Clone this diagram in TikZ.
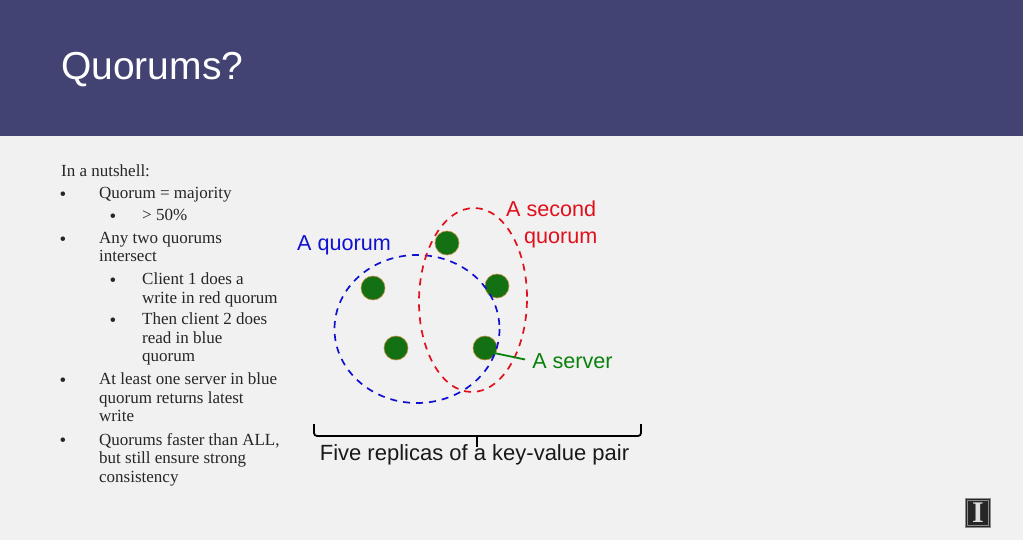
\documentclass[tikz,border=0pt]{standalone}
\usepackage{fontspec}
\setmainfont{Liberation Serif}
\newfontfamily\headfont{Liberation Sans}
\usetikzlibrary{positioning,arrows.meta,calc}
\definecolor{slidebg}{HTML}{F1F1F1}
\definecolor{banner}{HTML}{434373}
\definecolor{srvgreen}{HTML}{137013}
\definecolor{srvrim}{HTML}{C09040}
\definecolor{quorumblue}{HTML}{1010D0}
\definecolor{quorumred}{HTML}{E0101C}
\definecolor{labgreen}{HTML}{0B800B}
\tikzset{
  bodytext/.style={anchor=north west,inner sep=0pt,align=left,font=\fontsize{17}{18.5}\selectfont,text=black!85},
  bulletdot/.style={inner sep=0pt,font=\fontsize{19}{19}\selectfont,text=black!85},
  labeltext/.style={inner sep=0pt,align=center,font=\headfont\fontsize{21.6}{27}\selectfont},
  server/.style={circle,minimum size=24pt,inner sep=0pt,fill=srvgreen,draw=srvrim,line width=0.6pt},
  quorum/.style={dash pattern=on 7pt off 6pt,line width=1.7pt},
}
\begin{document}
\begin{tikzpicture}[x=1pt,y=-1pt]
\useasboundingbox (0,0) rectangle (1023,540);
\fill[slidebg] (0,0) rectangle (1023,540);
\fill[banner] (0,0) rectangle (1023,136);
\node[anchor=west,inner sep=0pt,text=white,font=\headfont\fontsize{39}{44}\selectfont] (title) at (61,70) {Quorums?};
% left hand text
\node[bodytext] (intro) at (61,165) {In a nutshell:};
\node[bodytext] (maj) at (99,187) {Quorum = majority};
\node[bodytext] (pct) at (142,209) {> 50\%};
\node[bodytext] (any) at (99,232) {Any two quorums\\intersect};
\node[bodytext] (cli1) at (142,273) {Client 1 does a\\write in red quorum};
\node[bodytext] (cli2) at (142,313) {Then client 2 does\\read in blue\\quorum};
\node[bodytext] (least) at (99,373) {At least one server in blue\\quorum returns latest\\write};
\node[bodytext] (fast) at (99,433) {Quorums faster than ALL,\\but still ensure strong\\consistency};
\foreach \n/\x/\y in {a/63/196,b/113/218,c/63/241,d/113/282,e/113/322,f/63/382,g/63/442}{
  \node[bulletdot] (dot\n) at (\x,\y) {\textbullet};
}
% replicas
\foreach \n/\x/\y in {top/447/243,right/497/286,left/373/288,low/396/348,mid/485/348}{
  \node[server] (srv\n) at (\x,\y) {};
}
\draw[quorum,draw=quorumblue] (417,329) ellipse [x radius=82.5,y radius=74];
\draw[quorum,draw=quorumred,rotate around={-1:(473,300)}] (473,300) ellipse [x radius=54,y radius=92];
\node[labeltext,text=quorumblue] (lblblue) at (344,245) {A quorum};
\node[labeltext,text=quorumred,anchor=west,align=left] (lblred) at (506,224.5) {A second\\\hspace*{18pt}quorum};
\node[labeltext,text=labgreen,inner xsep=7pt] (lblsrv) at (572.5,361) {A server};
\coordinate (srvtip) at ($(srvmid.center)+(9,5)$);
\draw[labgreen,line width=1.8pt] (srvtip) -- ([yshift=1.5pt]lblsrv.west);
% brace
\coordinate (bl) at (314,424);
\coordinate (br) at (641,424);
\coordinate (bc) at (477,436);
\coordinate (bm) at (477,447);
\draw[black,line width=1.8pt,rounded corners=3pt] (bl) |- (bc) -| (br);
\draw[black,line width=1.8pt] (bc) -- (bm);
\node[labeltext,text=black!90,font=\headfont\fontsize{22}{27}\selectfont] (lblfive) at (474.5,455) {Five replicas of a key-value pair};
% logo
\node[rectangle,fill=black!85,draw=black!45,double=black!85,line width=0.8pt,minimum width=23pt,minimum height=27pt,inner sep=0pt,text=black!12,font=\bfseries\fontsize{30}{30}\selectfont] (logo) at (978,513) {I};
\end{tikzpicture}
\end{document}
